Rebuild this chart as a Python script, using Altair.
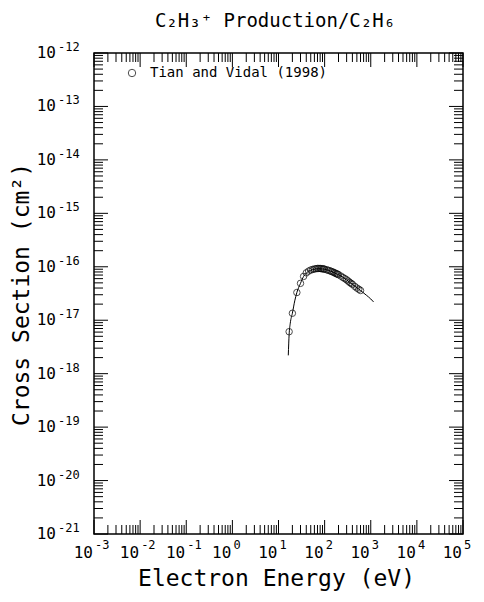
import altair as alt
import pandas as pd

# ---- data ----
fit_energy = [16.3, 17.0, 18.0, 20.0, 22.5, 25.0, 30.0, 35.0, 40.0, 50.0, 60.0, 70.0, 80.0,
              90.0, 100.0, 120.0, 150.0, 200.0, 300.0, 400.0, 600.0, 800.0, 1000.0, 1150.0]
fit_sigma = [2.2e-18, 5.4e-18, 8.8e-18, 1.35e-17, 2.3e-17, 3.3e-17, 4.9e-17, 6.6e-17, 7.6e-17,
             8.6e-17, 9.0e-17, 9.2e-17, 9.2e-17, 9.1e-17, 9.0e-17, 8.6e-17, 8.0e-17, 7.1e-17,
             5.7e-17, 4.7e-17, 3.6e-17, 2.95e-17, 2.5e-17, 2.2e-17]

tv_energy = [17, 20, 25, 30, 35, 40, 45, 50, 55, 60, 65, 70, 75, 80, 85, 90, 95, 100,
             110, 120, 130, 140, 150, 160, 170, 180, 190, 200, 225, 250, 275, 300,
             325, 350, 375, 400, 450, 500, 550, 600]
tv_sigma = [6.1e-18, 1.35e-17, 3.3e-17, 4.9e-17, 6.6e-17, 7.7e-17, 8.3e-17, 8.7e-17, 8.9e-17,
            9.1e-17, 9.2e-17, 9.3e-17, 9.3e-17, 9.3e-17, 9.2e-17, 9.2e-17, 9.1e-17, 9.0e-17,
            8.8e-17, 8.6e-17, 8.4e-17, 8.2e-17, 8.0e-17, 7.8e-17, 7.6e-17, 7.4e-17, 7.3e-17,
            7.1e-17, 6.7e-17, 6.3e-17, 6.0e-17, 5.7e-17, 5.4e-17, 5.1e-17, 4.9e-17, 4.7e-17,
            4.3e-17, 4.0e-17, 3.8e-17, 3.6e-17]

x_exponents = [-3, -2, -1, 0, 1, 2, 3, 4, 5]
y_exponents = [-21, -20, -19, -18, -17, -16, -15, -14, -13, -12]
minor_mults = [2, 3, 4, 5, 6, 7, 8, 9]

title_text = "C\u2082H\u2083\u207a Production/C\u2082H\u2086"
x_title = "Electron Energy (eV)"
y_title = "Cross Section (cm\u00b2)"
legend_label = "Tian and Vidal (1998)"

# ---- layout ----
W, H = 369, 481
FONT = "DejaVu Sans Mono"
MAJ, MIN = 14, 9

xs = alt.Scale(type="log", domain=[1e-3, 1e5], nice=False)
ys = alt.Scale(type="log", domain=[1e-21, 1e-12], nice=False)

fit_df = pd.DataFrame({"E": fit_energy, "s": fit_sigma})
tv_df = pd.DataFrame({"E": tv_energy, "s": tv_sigma})

xmaj = pd.DataFrame({"v": [10.0 ** e for e in x_exponents], "exp": [str(e) for e in x_exponents]})
xmin = pd.DataFrame({"v": [m * 10.0 ** e for e in x_exponents[:-1] for m in minor_mults]})
ymaj = pd.DataFrame({"v": [10.0 ** e for e in y_exponents], "exp": [str(e) for e in y_exponents]})
ymin = pd.DataFrame({"v": [m * 10.0 ** e for e in y_exponents[:-1] for m in minor_mults]})


def xtick(df, y0, y1):
    return alt.Chart(df).mark_rule(color="black", strokeWidth=1).encode(
        x=alt.X("v:Q", scale=xs, axis=None), y=alt.value(y0), y2=alt.value(y1))


def ytick(df, x0, x1):
    return alt.Chart(df).mark_rule(color="black", strokeWidth=1).encode(
        y=alt.Y("v:Q", scale=ys, axis=None), x=alt.value(x0), x2=alt.value(x1))


ticks = [
    xtick(xmaj, H, H - MAJ), xtick(xmin, H, H - MIN),
    xtick(xmaj, 0, MAJ), xtick(xmin, 0, MIN),
    ytick(ymaj, 0, MAJ), ytick(ymin, 0, MIN),
    ytick(ymaj, W, W - MAJ), ytick(ymin, W, W - MIN),
]

xlab10 = alt.Chart(xmaj).mark_text(font=FONT, fontSize=16, align="right", baseline="alphabetic", dx=-1).encode(
    x=alt.X("v:Q", scale=xs, axis=None), y=alt.value(H + 24), text=alt.value("10"))
xlabexp = alt.Chart(xmaj).mark_text(font=FONT, fontSize=12, align="left", baseline="alphabetic", dx=1).encode(
    x=alt.X("v:Q", scale=xs, axis=None), y=alt.value(H + 15), text="exp:N")

ylab10 = alt.Chart(ymaj).mark_text(font=FONT, fontSize=16, align="right", baseline="middle").encode(
    y=alt.Y("v:Q", scale=ys, axis=None), x=alt.value(-38), text=alt.value("10"))
ylabexp = alt.Chart(ymaj).mark_text(font=FONT, fontSize=12, align="left", baseline="middle", dy=-6).encode(
    y=alt.Y("v:Q", scale=ys, axis=None), x=alt.value(-36), text="exp:N")

line = alt.Chart(fit_df).mark_line(color="black", strokeWidth=1, interpolate="monotone").encode(
    x=alt.X("E:Q", scale=xs, axis=None), y=alt.Y("s:Q", scale=ys, axis=None))
pts = alt.Chart(tv_df).mark_point(shape="circle", filled=False, color="black", size=42, strokeWidth=1).encode(
    x=alt.X("E:Q", scale=xs, axis=None), y=alt.Y("s:Q", scale=ys, axis=None))

leg_df = pd.DataFrame({"label": [legend_label]})
leg_pt = alt.Chart(leg_df).mark_point(shape="circle", filled=False, color="black", size=55, strokeWidth=1).encode(
    x=alt.value(38), y=alt.value(20))
leg_txt = alt.Chart(leg_df).mark_text(font=FONT, fontSize=14, align="left", baseline="middle").encode(
    x=alt.value(56), y=alt.value(20), text="label:N")

xt = alt.Chart(pd.DataFrame({"t": [x_title]})).mark_text(font=FONT, fontSize=23, align="center", baseline="alphabetic").encode(
    x=alt.value(W / 2 - 2), y=alt.value(H + 52), text="t:N")
yt = alt.Chart(pd.DataFrame({"t": [y_title]})).mark_text(font=FONT, fontSize=23, align="center", baseline="middle", angle=270).encode(
    x=alt.value(-72), y=alt.value(H / 2 + 1), text="t:N")
tt = alt.Chart(pd.DataFrame({"t": [title_text]})).mark_text(font=FONT, fontSize=19, align="center", baseline="alphabetic").encode(
    x=alt.value(181), y=alt.value(-26), text="t:N")

chart = alt.layer(*ticks, xlab10, xlabexp, ylab10, ylabexp, line, pts, leg_pt, leg_txt, xt, yt, tt).properties(
    width=W, height=H,
    autosize=alt.AutoSizeParams(type="none"),
    padding={"left": 86, "top": 45, "right": 10, "bottom": 60},
).configure_view(stroke="black", strokeWidth=1.5)

chart.save("out.html", embed_options={"renderer": "svg", "actions": False})
